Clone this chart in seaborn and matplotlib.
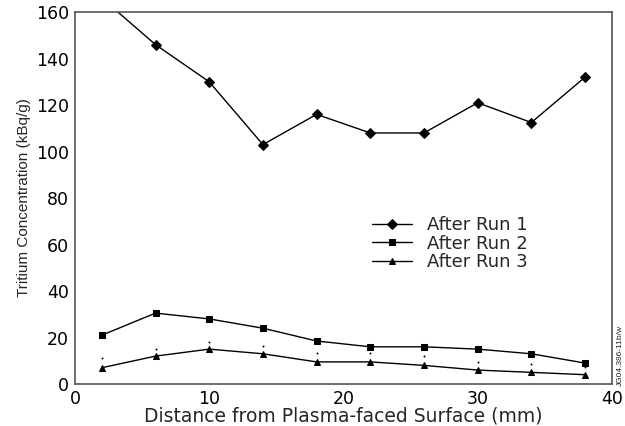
import matplotlib
matplotlib.use("Agg")
import matplotlib.pyplot as plt
import seaborn as sns
import pandas as pd

distance = [2, 6, 10, 14, 18, 22, 26, 30, 34, 38]
run1 = [166, 146, 130, 103, 116, 108, 108, 121, 112.5, 132]
run2 = [21, 30.5, 28, 24, 18.5, 16, 16, 15, 13, 9]
run3 = [7, 12, 15, 13, 9.5, 9.5, 8, 6, 5, 4]
run3_upper = [11.2, 15, 18.2, 16.3, 13.2, 13.2, 12, 9.5, 8.5, 7.5]
series_names = ["After Run 1", "After Run 2", "After Run 3"]
x_ticks = [0, 10, 20, 30, 40]
y_ticks = [0, 20, 40, 60, 80, 100, 120, 140, 160]

sns.set_theme(style="white")
plt.rcParams['font.family'] = ['DejaVu Sans']

df = pd.DataFrame({
    "Distance": distance * 3,
    "Value": run1 + run2 + run3,
    "Series": [series_names[0]] * len(distance) + [series_names[1]] * len(distance) + [series_names[2]] * len(distance),
})
df_upper = pd.DataFrame({"Distance": distance, "Upper": run3_upper})

fig = plt.figure(figsize=(6.25, 4.26), dpi=100)
ax = fig.add_axes([0.12, 0.0986, 0.859, 0.873])

markers = {series_names[0]: "D", series_names[1]: "s", series_names[2]: "^"}
sizes = {series_names[0]: 8, series_names[1]: 7.5, series_names[2]: 7.5}
for name in series_names:
    sub = df[df["Series"] == name]
    sns.lineplot(data=sub, x="Distance", y="Value", ax=ax, color="black",
                 linewidth=1.0, marker=markers[name], markersize=sizes[name],
                 markeredgecolor="black", markerfacecolor="black", label=name)

sns.scatterplot(data=df_upper, x="Distance", y="Upper", ax=ax, color="black",
                s=2, marker="o", linewidth=0, legend=False)

ax.set_xlim(0, 40)
ax.set_ylim(0, 160)
ax.set_xticks(x_ticks)
ax.set_yticks(y_ticks)
ax.tick_params(direction="in", length=8, width=1, colors="#333333", labelsize=12.5,
               labelcolor="black")
ax.tick_params(axis="y", pad=4.5)
ax.tick_params(axis="x", pad=4)
for s in ax.spines.values():
    s.set_color("#555555")
    s.set_linewidth(1.2)
    s.set_visible(True)

ax.set_xlabel("Distance from Plasma-faced Surface (mm)", fontsize=13.5, labelpad=-1)
ax.set_ylabel("Tritium Concentration (kBq/g)", fontsize=11, labelpad=3,
              family="Liberation Sans")

handles, labels = ax.get_legend_handles_labels()
for h in handles:
    h.set_markersize(5)
leg = ax.legend(handles, labels, loc="upper left", bbox_to_anchor=(0.54, 0.47),
                frameon=False, fontsize=13, handlelength=2.2, handletextpad=0.85,
                labelspacing=0.02, borderaxespad=0)

fig.text(0.993, 0.165, "JG04.386-11b/w", rotation=90, fontsize=6, ha="center",
         va="center", family="Liberation Sans")

fig.savefig("out.png", dpi=100)
